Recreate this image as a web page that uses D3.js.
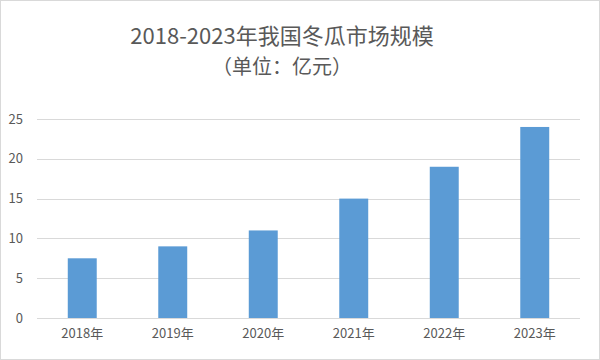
<!DOCTYPE html>
<html>
<head>
<meta charset="utf-8">
<script src="https://cdn.jsdelivr.net/npm/d3@7"></script>
<style>
  html, body { margin: 0; padding: 0; background: #fff; }
  svg { display: block; }
</style>
</head>
<body>
<div id="chart"></div>
<script>
const categories = ['2018年', '2019年', '2020年', '2021年', '2022年', '2023年']
const values = [7.5, 9, 11, 15, 19, 24]
const yTicks = [0, 5, 10, 15, 20, 25]
const titleLines = ['2018-2023年我国冬瓜市场规模', '（单位：亿元）']

const width = 600
const height = 360
const margin = { top: 119, right: 20, bottom: 42, left: 37 }
const font = '"Noto Sans CJK SC", "Noto Sans", sans-serif'

const svg = d3
  .select('#chart')
  .append('svg')
  .attr('width', width)
  .attr('height', height)

// outer frame
svg
  .append('rect')
  .attr('x', 0.5)
  .attr('y', 0.5)
  .attr('width', width - 1)
  .attr('height', height - 1)
  .attr('fill', '#fff')
  .attr('stroke', '#d9d9d9')

const x = d3
  .scaleBand()
  .domain(categories)
  .range([margin.left, width - margin.right])
  .paddingInner(0.68)
  .paddingOuter(0.34)

const y = d3
  .scaleLinear()
  .domain([0, 25])
  .range([height - margin.bottom, margin.top])

// gridlines
svg
  .append('g')
  .selectAll('line')
  .data(yTicks)
  .join('line')
  .attr('x1', margin.left)
  .attr('x2', width - margin.right)
  .attr('y1', (d) => Math.round(y(d)) + 0.5)
  .attr('y2', (d) => Math.round(y(d)) + 0.5)
  .attr('stroke', '#d9d9d9')
  .attr('stroke-width', 1)

// y labels
const yAxis = d3.axisLeft(y).tickValues(yTicks).tickSize(0).tickPadding(14)
svg
  .append('g')
  .attr('transform', `translate(${margin.left},0)`)
  .call(yAxis)
  .call((g) => g.select('.domain').remove())
  .call((g) =>
    g.selectAll('text').attr('fill', '#595959').style('font-size', '13px').style('font-family', font),
  )

// bars
svg
  .append('g')
  .selectAll('rect')
  .data(values)
  .join('rect')
  .attr('x', (d, i) => x(categories[i]))
  .attr('y', (d) => y(d))
  .attr('width', x.bandwidth())
  .attr('height', (d) => y(0) - y(d))
  .attr('fill', '#5b9bd5')

// x labels
const xAxis = d3.axisBottom(x).tickSize(0).tickPadding(11)
svg
  .append('g')
  .attr('transform', `translate(0,${height - margin.bottom})`)
  .call(xAxis)
  .call((g) => g.select('.domain').remove())
  .call((g) =>
    g.selectAll('text').attr('fill', '#595959').style('font-size', '13px').style('font-family', font),
  )

// title
svg
  .append('g')
  .selectAll('text')
  .data(titleLines)
  .join('text')
  .attr('x', 282)
  .attr('y', (d, i) => 44 + i * 30)
  .attr('text-anchor', 'middle')
  .attr('fill', '#595959')
  .style('font-family', font)
  .style('font-size', (d, i) => (i === 0 ? '22px' : '20px'))
  .text((d) => d)
</script>
</body>
</html>
